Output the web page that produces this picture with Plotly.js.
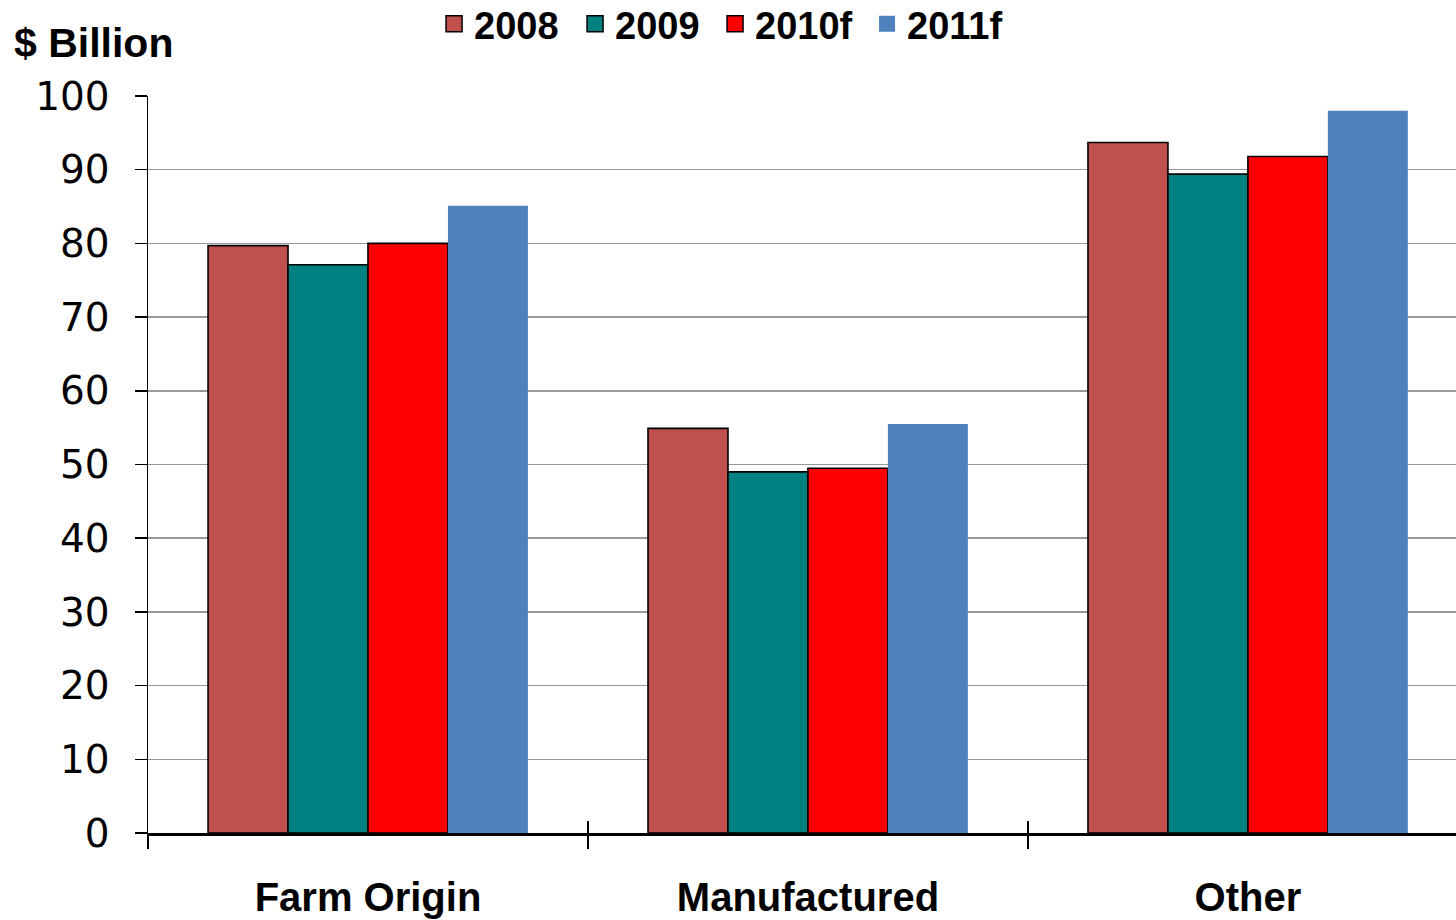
<!DOCTYPE html>
<html>
<head>
<meta charset="utf-8">
<script src="https://cdn.plot.ly/plotly-3.0.1.min.js"></script>
<style>
  html, body { margin: 0; padding: 0; background: #ffffff; }
  #chart { width: 1456px; height: 920px; }
</style>
</head>
<body>
<div id="chart"></div>
<script>
// Product groups along the x axis
const categories = ['Farm Origin', 'Manufactured', 'Other'];

// Values in $ billion for each year / forecast year
const years = ['2008', '2009', '2010f', '2011f'];
const values2008 = [79.7, 54.9, 93.7];
const values2009 = [77.1, 49.0, 89.4];
const values2010f = [80.0, 49.5, 91.8];
const values2011f = [85.1, 55.5, 98.0];

// y axis ticks
const yTicks = [0, 10, 20, 30, 40, 50, 60, 70, 80, 90, 100];

const seriesValues = [values2008, values2009, values2010f, values2011f];

// Styling per series
const colors = ['#C0504D', '#008080', '#FF0000', '#4F81BD'];
const outlined = [true, true, true, false];
const legendTextWidths = [96, 95, 107, 95];

const traces = [];

// Bars
years.forEach((yr, i) => {
  traces.push({
    type: 'bar',
    name: yr,
    x: categories,
    y: seriesValues[i],
    marker: {
      color: colors[i],
      line: { color: outlined[i] ? '#000000' : colors[i], width: outlined[i] ? 1.6 : 0 }
    },
    legendgroup: yr,
    showlegend: false,
    hoverinfo: 'x+y+name'
  });
});

// Square legend keys
years.forEach((yr, i) => {
  traces.push({
    type: 'scatter',
    mode: 'markers',
    name: yr,
    x: [null],
    y: [null],
    legendgroup: yr,
    legendwidth: legendTextWidths[i],
    marker: {
      symbol: 'square',
      size: 16,
      color: colors[i],
      line: { color: outlined[i] ? '#000000' : colors[i], width: outlined[i] ? 1.5 : 0 }
    },
    hoverinfo: 'skip'
  });
});

// Carrier for the upward half of the boundary ticks
traces.push({
  type: 'scatter',
  mode: 'none',
  x: categories,
  y: values2008,
  xaxis: 'x2',
  showlegend: false,
  hoverinfo: 'skip'
});

const xRange = [-0.5, 2.473];

const layout = {
  width: 1456,
  height: 920,
  margin: { l: 148, r: 0, t: 96, b: 87, pad: 0, autoexpand: false },
  paper_bgcolor: '#ffffff',
  plot_bgcolor: '#ffffff',
  barmode: 'group',
  bargap: 0.273,
  bargroupgap: 0,
  showlegend: true,
  legend: {
    orientation: 'h',
    xref: 'paper',
    yref: 'paper',
    x: 0.2187,
    xanchor: 'left',
    y: 1.0977,
    yanchor: 'middle',
    font: { family: 'Liberation Sans, Arial, sans-serif', size: 38, color: '#000000', weight: 'bold' },
    itemwidth: 30,
    tracegroupgap: 0,
    bgcolor: 'rgba(0,0,0,0)'
  },
  xaxis: {
    type: 'category',
    categoryorder: 'array',
    categoryarray: categories,
    range: xRange,
    showgrid: false,
    zeroline: false,
    showline: true,
    linecolor: '#000000',
    linewidth: 2.5,
    ticks: 'outside',
    tickson: 'boundaries',
    ticklen: 13,
    tickwidth: 1.5,
    tickcolor: '#000000',
    ticklabelstandoff: 27,
    tickangle: 0,
    tickfont: { family: 'Liberation Sans, Arial, sans-serif', size: 40, color: '#000000', weight: 'bold' },
    fixedrange: true
  },
  xaxis2: {
    type: 'category',
    categoryorder: 'array',
    categoryarray: categories,
    range: xRange,
    overlaying: 'x',
    side: 'bottom',
    anchor: 'y',
    showgrid: false,
    zeroline: false,
    showline: false,
    ticks: 'inside',
    tickson: 'boundaries',
    ticklen: 12,
    tickwidth: 1.5,
    tickcolor: '#000000',
    showticklabels: false,
    fixedrange: true
  },
  yaxis: {
    range: [0, 100],
    tickvals: yTicks,
    ticktext: yTicks.map(String),
    showgrid: true,
    gridcolor: '#999999',
    gridwidth: 1.5,
    zeroline: false,
    showline: true,
    linecolor: '#000000',
    linewidth: 1.5,
    ticks: 'outside',
    ticklen: 12,
    tickwidth: 1.5,
    tickcolor: '#000000',
    ticklabelstandoff: 17,
    tickfont: { family: 'DejaVu Sans, Verdana, sans-serif', size: 39, color: '#000000' },
    fixedrange: true
  },
  annotations: [{
    text: '$ Billion',
    xref: 'paper',
    yref: 'paper',
    x: -0.104,
    y: 1.072,
    xanchor: 'left',
    yanchor: 'middle',
    showarrow: false,
    font: { family: 'Liberation Sans, Arial, sans-serif', size: 41, color: '#000000', weight: 'bold' }
  }]
};

Plotly.newPlot('chart', traces, layout, { displayModeBar: false, responsive: false, staticPlot: true });
</script>
</body>
</html>
